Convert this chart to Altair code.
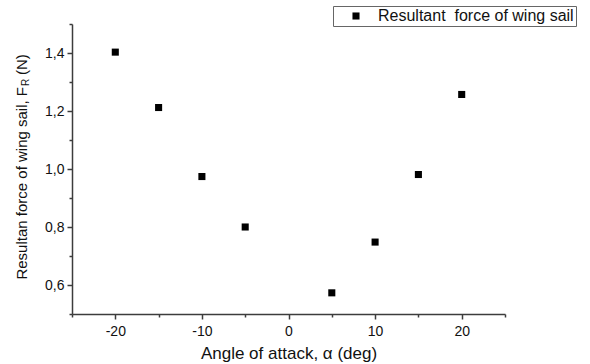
import altair as alt
import pandas as pd

# Measured resultant force of the wing sail at each angle of attack
angles = [-20, -15, -10, -5, 5, 10, 15, 20]
force = [1.403, 1.212, 0.974, 0.800, 0.573, 0.748, 0.981, 1.257]
series_name = "Resultant\u00a0 force of wing sail"

x_major = [-20, -10, 0, 10, 20]
x_minor = [-25, -15, -5, 5, 15, 25]
y_major = [0.6, 0.8, 1.0, 1.2, 1.4]
y_minor = [0.5, 0.7, 0.9, 1.1, 1.3, 1.5]

df = pd.DataFrame({"angle": angles, "force": force, "series": series_name})

FONT = "Liberation Sans, Arial, sans-serif"
AXIS_COLOR = "#3c3c3c"

x_scale = alt.Scale(domain=[-25, 25], nice=False, zero=False)
y_scale = alt.Scale(domain=[0.5, 1.5], nice=False, zero=False)

# Minor ticks: an invisible layer that only carries short tick-only axes
minor = alt.Chart(df).mark_square(opacity=0).encode(
    x=alt.X("angle:Q", scale=x_scale,
            axis=alt.Axis(orient="bottom", values=x_minor, labels=False, domain=False,
                          grid=False, tickSize=3, tickWidth=1.5, tickColor=AXIS_COLOR,
                          title=None)),
    y=alt.Y("force:Q", scale=y_scale,
            axis=alt.Axis(orient="left", values=y_minor, labels=False, domain=False,
                          grid=False, tickSize=3, tickWidth=1.5, tickColor=AXIS_COLOR,
                          title=None)),
)

points = alt.Chart(df).mark_square(size=50, opacity=1).encode(
    x=alt.X("angle:Q", scale=x_scale,
            axis=alt.Axis(orient="bottom", values=x_major, grid=False,
                          domainColor=AXIS_COLOR, domainWidth=1.5,
                          tickColor=AXIS_COLOR, tickWidth=1.5, tickSize=5,
                          labelExpr="'' + datum.value", labelFontSize=14,
                          labelPadding=5, labelColor="#111",
                          title="Angle of attack, \u03b1 (deg)", titleFontSize=17,
                          titleFontWeight="normal", titleColor="#111",
                          titlePadding=7)),
    y=alt.Y("force:Q", scale=y_scale,
            axis=alt.Axis(orient="left", values=y_major, grid=False,
                          domainColor=AXIS_COLOR, domainWidth=1.5,
                          tickColor=AXIS_COLOR, tickWidth=1.5, tickSize=5,
                          labelExpr="replace(format(datum.value, '.1f'), '.', ',')",
                          labelFontSize=14, labelPadding=3, labelColor="#111",
                          title=None)),
    color=alt.Color("series:N",
                    scale=alt.Scale(domain=[series_name], range=["black"]),
                    legend=alt.Legend(title=None, orient="none", legendX=261, legendY=-18,
                                      strokeColor="#666", fillColor="white", padding=2,
                                      symbolType="square", symbolSize=50,
                                      symbolStrokeWidth=0, symbolOffset=13,
                                      labelOffset=14, labelFontSize=16, labelLimit=400,
                                      labelColor="#111", labelFont=FONT)),
)

# Vertical axis title with a subscripted R
anchor = alt.Data(values=[{}])
title_main = alt.Chart(anchor).mark_text(
    text="Resultan force of wing sail, F", angle=270, align="right",
    baseline="middle", fontSize=15, font=FONT, color="#111",
).encode(x=alt.value(-50), y=alt.value(63))
title_sub = alt.Chart(anchor).mark_text(
    text="R", angle=270, align="left", baseline="middle", fontSize=10,
    font=FONT, color="#111", dx=1, dy=4,
).encode(x=alt.value(-50), y=alt.value(63))
title_unit = alt.Chart(anchor).mark_text(
    text="(N)", angle=270, align="left", baseline="middle", fontSize=15,
    font=FONT, color="#111", dx=12,
).encode(x=alt.value(-50), y=alt.value(63))

chart = alt.layer(minor, points, title_main, title_sub, title_unit).resolve_axis(
    x="independent", y="independent"
).properties(
    width=433, height=290,
    autosize=alt.AutoSizeParams(type="none"),
    padding={"left": 72, "top": 24, "right": 85, "bottom": 50},
).configure(font=FONT).configure_view(stroke=None)

chart.save("out.html", embed_options={"renderer": "svg", "actions": False})
